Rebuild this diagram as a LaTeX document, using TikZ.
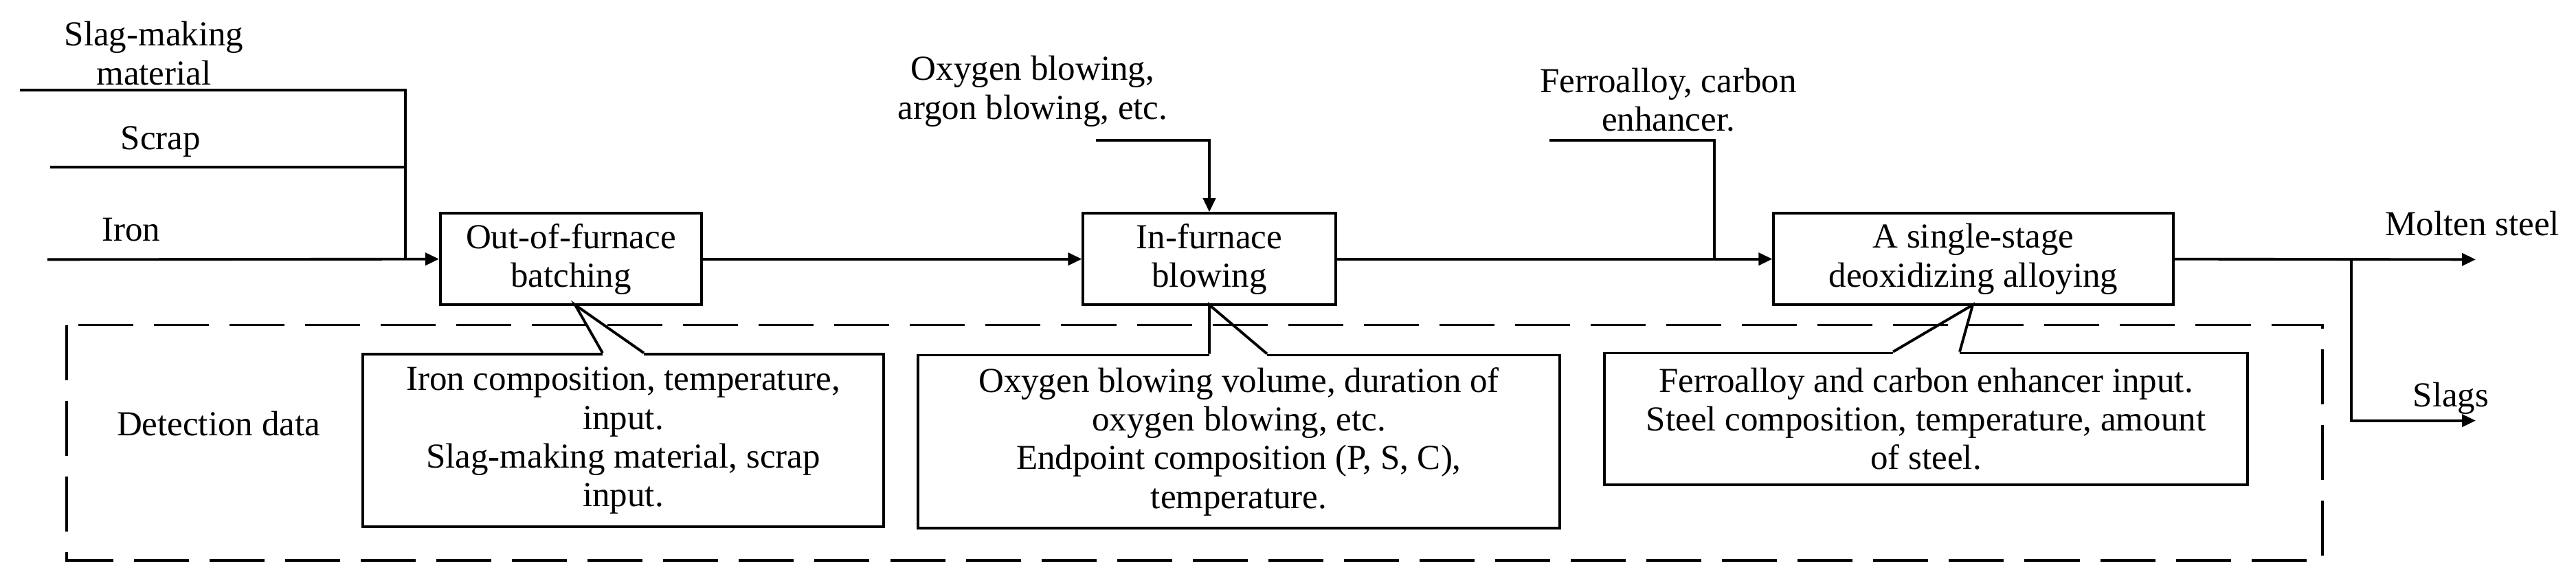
\documentclass[tikz,border=0pt]{standalone}
\usepackage{fontspec}
\setmainfont{Liberation Serif}
\usetikzlibrary{arrows.meta}
\begin{document}
\begin{tikzpicture}[x=0.01cm,y=-0.00647cm,line width=1.1pt,
    font=\fontsize{14.5}{16}\selectfont,
    >={Triangle[length=0.2cm,width=0.18cm]},
    stage/.style={draw,align=center,inner sep=0pt},
    note/.style={draw,align=center,inner sep=0pt,fill=white},
    lbl/.style={align=center,inner sep=0pt}]
  \useasboundingbox (0,0) rectangle (3749,1300);

  % detection area
  \draw[dash pattern=on 0.8cm off 0.3cm] (97,730) rectangle (3380,1259);
  \node[lbl] (det) at (318,952) {Detection data};

  % process stages
  \node[stage,minimum width=3.8cm,minimum height=1.33cm] (B1) at (831,582) {Out-of-furnace\\batching};
  \node[stage,minimum width=3.67cm,minimum height=1.33cm] (B2) at (1760,582) {In-furnace\\blowing};
  \node[stage,minimum width=5.81cm,minimum height=1.33cm] (B3) at (2872,582) {A single-stage\\deoxidizing alloying};

  % inputs
  \node[lbl] (slag) at (224,120) {Slag-making\\material};
  \node[lbl] (scrap) at (234,318) {Scrap};
  \node[lbl] (iron) at (191,516) {Iron};
  \node[lbl] (oxy) at (1503,205) {Oxygen blowing,\\argon blowing, etc.};
  \node[lbl] (ferro) at (2428,224) {Ferroalloy, carbon\\enhancer.};
  \node[lbl] (molten) at (3598,502) {Molten steel};
  \node[lbl] (slags) at (3567,895) {Slags};

  \coordinate (sA) at (29,203);
  \coordinate (sB) at (73,376);
  \coordinate (sC) at (69,583);
  \coordinate (jn) at (590,583);
  \coordinate (oA) at (1595,315);
  \coordinate (fA) at (2255,315);
  \coordinate (fB) at (2495,583);
  \coordinate (split) at (3422,583);
  \coordinate (out1) at (3603,583);
  \coordinate (out2) at (3603,945);

  \draw (sA) -| (jn);
  \draw (sB) -- (sB -| jn);
  \draw[->] (sC) -- (B1.west);
  \draw[->] (B1.east) -- (B2.west);
  \draw[->] (oA) -| (B2.north);
  \draw[->] (B2.east) -- (B3.west);
  \draw (fA) -| (fB);
  \draw[->] (B3.east) -- (out1);
  \draw[->] (split) |- (out2);

  % detection notes
  \node[note,minimum width=7.57cm,minimum height=2.51cm] (N1) at (907,990)
    {Iron composition, temperature,\\input.\\Slag-making material, scrap\\input.};
  \node[note,minimum width=9.34cm,minimum height=2.51cm] (N2) at (1803,992)
    {Oxygen blowing volume, duration of\\oxygen blowing, etc.\\Endpoint composition (P, S, C),\\temperature.};
  \node[note,minimum width=9.35cm,minimum height=1.91cm] (N3) at (2803,941)
    {Ferroalloy and carbon enhancer input.\\Steel composition, temperature, amount\\of steel.};

  \coordinate (p1) at (837,685);
  \coordinate (p2) at (1760,685);
  \coordinate (p3) at (2871,685);
  \fill[white] (877,788) rectangle (937,805);
  \draw (N1.north -| 877,0) -- (p1) -- (N1.north -| 937,0);
  \fill[white] (1760,790) rectangle (1844,807);
  \draw (N2.north -| 1760,0) -- (p2) -- (N2.north -| 1844,0);
  \fill[white] (2755,786) rectangle (2852,803);
  \draw (N3.north -| 2755,0) -- (p3) -- (N3.north -| 2852,0);
\end{tikzpicture}
\end{document}
